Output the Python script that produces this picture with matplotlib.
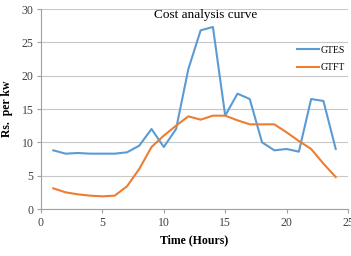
import matplotlib
matplotlib.use("Agg")
import matplotlib.pyplot as plt

hours = list(range(1, 25))
gtes = [8.8, 8.3, 8.4, 8.3, 8.3, 8.3, 8.5, 9.5, 12.0, 9.3, 12.0, 21.0,
        26.8, 27.3, 14.0, 17.3, 16.5, 10.0, 8.8, 9.0, 8.6, 16.5, 16.2, 9.0]
gtft = [3.1, 2.5, 2.2, 2.0, 1.9, 2.0, 3.4, 6.0, 9.3, 11.0, 12.5, 13.9,
        13.4, 14.0, 14.0, 13.3, 12.7, 12.7, 12.7, 11.5, 10.2, 9.0, 6.8, 4.8]
xticks = [0, 5, 10, 15, 20, 25]
yticks = [0, 5, 10, 15, 20, 25, 30]

plt.rcParams['font.family'] = ['Liberation Serif', 'DejaVu Serif']

fig = plt.figure(figsize=(3.51, 2.56), dpi=100)
ax = fig.add_axes([41/351, 1-209/256, 307/351, 200/256])

ax.plot(hours, gtes, color='#5B9BD5', lw=1.5, label='GTES')
ax.plot(hours, gtft, color='#ED7D31', lw=1.5, label='GTFT')

ax.set_xlim(0, 25)
ax.set_ylim(0, 30)
ax.set_xticks(xticks)
ax.set_yticks(yticks)
ax.yaxis.grid(True, color='#C8C8C8', lw=0.8)
ax.set_axisbelow(True)
for s in ['top', 'right']:
    ax.spines[s].set_visible(False)
for s in ['left', 'bottom']:
    ax.spines[s].set_color('#A0A0A0')
ax.tick_params(axis='both', labelsize=8.5, colors='#404040', length=3, width=0.8,
               direction='out', pad=2.5)
ax.tick_params(axis='both', color='#A0A0A0')

ax.set_xlabel('Time (Hours)', fontsize=8.5, fontweight='bold', labelpad=4)
ax.set_ylabel('Rs.  per kw', fontsize=8.5, fontweight='bold', labelpad=6)

ax.text(13.4, 29.1, 'Cost analysis curve', fontsize=9.5, ha='center', va='center')

leg = ax.legend(loc='upper right', bbox_to_anchor=(1.02, 0.86), frameon=False,
                fontsize=7, handlelength=2.3, handletextpad=0.2, labelspacing=0.9)

fig.savefig('out.png', dpi=100)
